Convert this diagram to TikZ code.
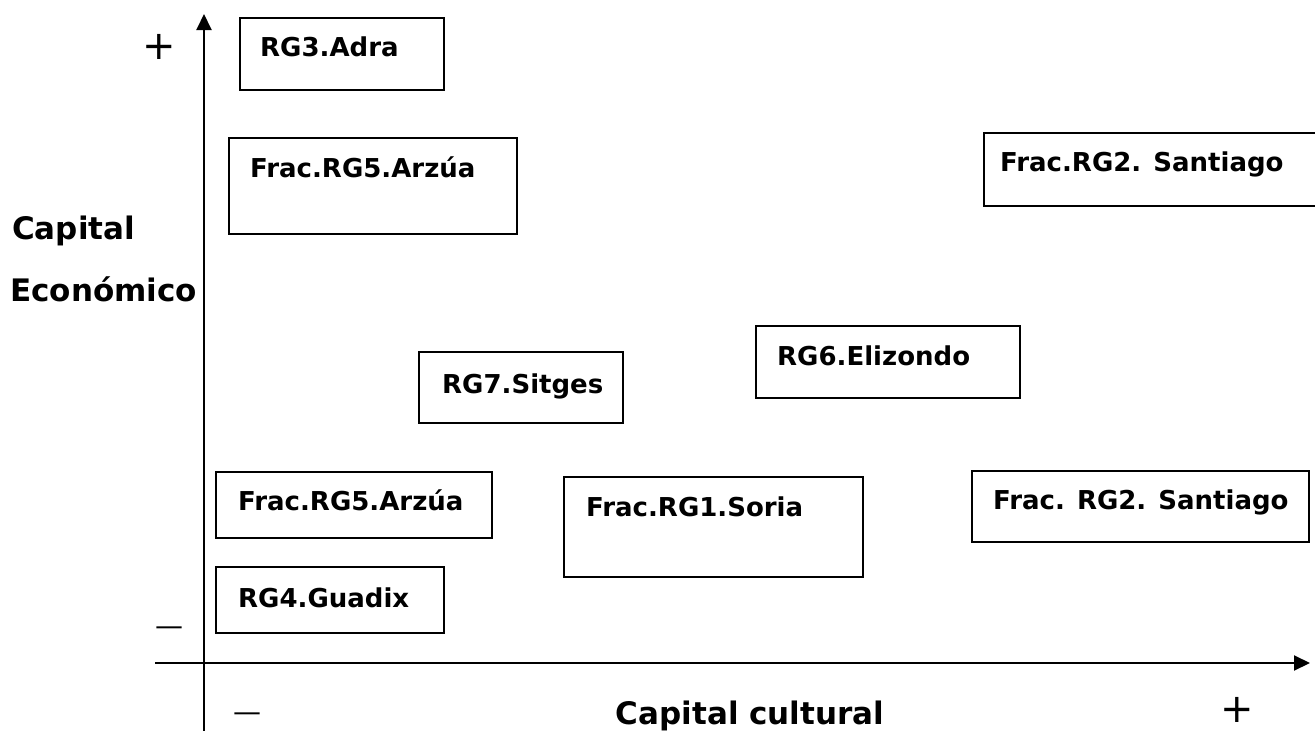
\documentclass[tikz,border=0pt]{standalone}
\usepackage{fontspec}
\setmainfont{DejaVu Sans}
\usetikzlibrary{arrows.meta}
\begin{document}
\begin{tikzpicture}[x=1pt,y=-1pt,
  boxline/.style={draw=black,line width=2pt},
  axisline/.style={draw=black,line width=2pt,-{Triangle[length=16pt,width=15pt]}},
  lbl/.style={anchor=base west,inner sep=0pt,font=\fontsize{26}{31}\selectfont\bfseries},
  axlbl/.style={anchor=base west,inner sep=0pt,font=\fontsize{31}{36}\selectfont\bfseries},
  sgn/.style={inner sep=0pt,font=\fontsize{40}{44}\selectfont},
  msgn/.style={anchor=base,inner sep=0pt,font=\fontsize{28}{32}\selectfont}]
\useasboundingbox (0,0) rectangle (1315,731);
% axes
\coordinate (ybot) at (204,731);
\coordinate (ytop) at (204,14);
\coordinate (xl) at (155,663);
\coordinate (xr) at (1310,663);
\draw[axisline] (ybot) -- (ytop);
\draw[axisline] (xl) -- (xr);
% boxes
\draw[boxline] (240,18) rectangle (444,90);
\node[lbl] (t3) at (260,56) {RG3.Adra};
\draw[boxline] (229,138) rectangle (517,234);
\node[lbl] (t5a) at (250,177) {Frac.RG5.Arzúa};
\draw[boxline] (1316,133) -- (984,133) -- (984,206) -- (1316,206);
\node[lbl] (t2a) at (1000,171) {Frac.RG2. Santiago};
\draw[boxline] (756,326) rectangle (1020,398);
\node[lbl] (t6) at (777,365) {RG6.Elizondo};
\draw[boxline] (419,352) rectangle (623,423);
\node[lbl] (t7) at (442,393) {RG7.Sitges};
\draw[boxline] (216,472) rectangle (492,538);
\node[lbl] (t5b) at (238,510) {Frac.RG5.Arzúa};
\draw[boxline] (972,471) rectangle (1309,542);
\node[lbl] (t2b) at (993,509) {Frac. RG2. Santiago};
\draw[boxline] (564,477) rectangle (863,577);
\node[lbl] (t1) at (586,516) {Frac.RG1.Soria};
\draw[boxline] (216,567) rectangle (444,633);
\node[lbl] (t4) at (238,607) {RG4.Guadix};
% axis labels
\node[axlbl] (cap1) at (12,239) {Capital};
\node[axlbl] (cap2) at (10,301) {Económico};
\node[axlbl,anchor=base] (capc) at (750,724) {Capital cultural};
% signs
\node[sgn] (p1) at (159,47) {+};
\node[sgn] (p2) at (1237,710) {+};
\node[msgn] (m1) at (169,635) {—};
\node[msgn] (m2) at (247,721) {—};
\end{tikzpicture}
\end{document}
